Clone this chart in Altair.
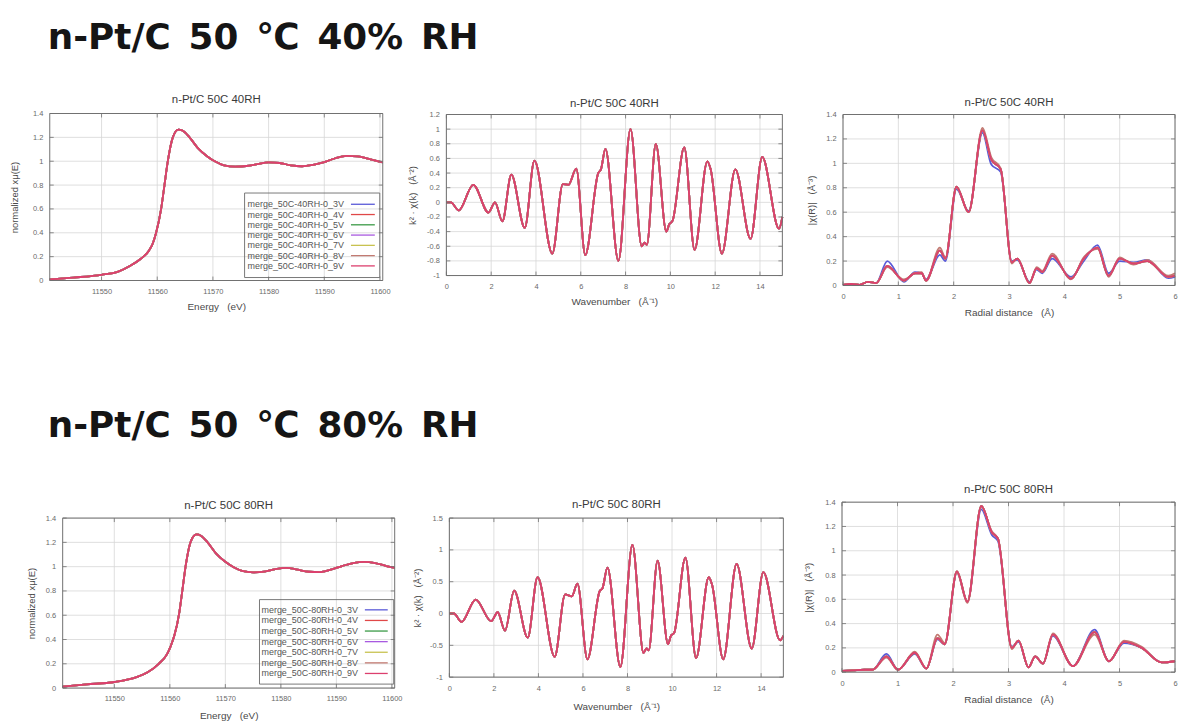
import altair as alt
import pandas as pd

FONT = "Liberation Sans"
HEAD_FONT = "DejaVu Sans"
GRID = "#d6d6d6"
FRAME = "#707070"
LABEL_C = "#6a6a6a"
TITLE_C = "#4a4a4a"
H = 690

# ---------------- series / legend ----------------
SERIES = ["0_3V", "0_4V", "0_5V", "0_6V", "0_7V", "0_8V", "0_9V"]
COLORS = ["#5a5ad8", "#e04848", "#3a9a46", "#a85ae0", "#c8c250", "#c27a72", "#dc3f6e"]
LEGEND_40 = ["merge_50C-40RH-0_3V", "merge_50C-40RH-0_4V", "merge_50C-40RH-0_5V", "merge_50C-40RH-0_6V",
             "merge_50C-40RH-0_7V", "merge_50C-40RH-0_8V", "merge_50C-40RH-0_9V"]
LEGEND_80 = ["merge_50C-80RH-0_3V", "merge_50C-80RH-0_4V", "merge_50C-80RH-0_5V", "merge_50C-80RH-0_6V",
             "merge_50C-80RH-0_7V", "merge_50C-80RH-0_8V", "merge_50C-80RH-0_9V"]

SP = "\u2002"
HEADINGS = ["n-Pt/C" + SP + "50" + SP + "\u2103" + SP + "40%" + SP + "RH",
            "n-Pt/C" + SP + "50" + SP + "\u2103" + SP + "80%" + SP + "RH"]
PANEL_TITLES = ["n-Pt/C 50C 40RH", "n-Pt/C 50C 40RH", "n-Pt/C 50C 40RH",
                "n-Pt/C 50C 80RH", "n-Pt/C 50C 80RH", "n-Pt/C 50C 80RH"]
NB = "\u00a0\u00a0\u00a0"
X_TITLES = ["Energy" + NB + "(eV)", "Wavenumber" + NB + "(\u00c5\u207b\u00b9)", "Radial distance" + NB + "(\u00c5)"]
Y_TITLES = ["normalized x\u03bc(E)", "k\u00b2 \u00b7 \u03c7(k)" + NB + "(\u00c5\u207b\u00b2)",
            "|\u03c7(R)|" + NB + "(\u00c5\u207b\u00b3)"]

# ---------------- tick values ----------------
XT_E = [11550, 11560, 11570, 11580, 11590, 11600]
YT_MU = [0, 0.2, 0.4, 0.6, 0.8, 1, 1.2, 1.4]
XT_K = [0, 2, 4, 6, 8, 10, 12, 14]
YT_K40 = [-1, -0.8, -0.6, -0.4, -0.2, 0, 0.2, 0.4, 0.6, 0.8, 1, 1.2]
YT_K80 = [-1, -0.5, 0, 0.5, 1, 1.5]
XT_R = [0, 1, 2, 3, 4, 5, 6]
YT_R = [0, 0.2, 0.4, 0.6, 0.8, 1, 1.2, 1.4]

# ---------------- XANES ----------------
E40 = [11540.7, 11545, 11550, 11553, 11555, 11557, 11558.5, 11559.2, 11559.8, 11560.7, 11561.3, 11561.9,
       11562.8, 11563.8, 11564.6, 11565.8, 11567.3, 11569, 11570.5, 11572, 11574, 11576, 11578, 11580,
       11582, 11584, 11586, 11588, 11590, 11592, 11594, 11596, 11598, 11600.5]
MU40 = [0.01, 0.025, 0.048, 0.075, 0.12, 0.18, 0.25, 0.31, 0.40, 0.60, 0.80, 1.00,
        1.20, 1.265, 1.255, 1.2, 1.11, 1.04, 0.995, 0.965, 0.955, 0.96, 0.975, 0.99,
        0.985, 0.965, 0.958, 0.97, 0.993, 1.025, 1.045, 1.04, 1.02, 0.99]

E80 = [11540.7, 11545, 11550, 11554, 11556, 11558, 11559.5, 11560.2, 11560.8, 11561.7, 11562.3, 11562.9,
       11563.8, 11564.8, 11565.6, 11566.8, 11568.3, 11570, 11571.5, 11573, 11575, 11577, 11579, 11581,
       11583, 11585, 11587, 11589, 11591, 11593, 11595, 11597, 11599, 11600.5]
MU80 = [0.012, 0.03, 0.05, 0.09, 0.13, 0.2, 0.28, 0.35, 0.43, 0.62, 0.82, 1.02,
        1.21, 1.265, 1.255, 1.2, 1.11, 1.04, 0.995, 0.965, 0.953, 0.96, 0.98, 0.99,
        0.975, 0.958, 0.955, 0.975, 1.005, 1.03, 1.04, 1.03, 1.005, 0.99]

# ---------------- k-space ----------------
K40 = [0, 0.2, 0.55, 1.2, 1.88, 2.17, 2.5, 2.9, 3.5, 3.93, 4.73, 5.2, 5.45, 5.8, 6.2, 6.78, 6.9, 7.1,
       7.68, 8.22, 8.72, 8.85, 8.95, 9.35, 9.82, 9.95, 10.1, 10.62, 11.08, 11.65, 11.8, 12.3, 12.9,
       13.58, 14.1, 14.85, 15.0]
C40 = [0, 0, -0.11, 0.24, -0.14, 0.0, -0.26, 0.38, -0.35, 0.57, -0.7, 0.25, 0.24, 0.46, -0.72, 0.4, 0.45, 0.73,
       -0.8, 1.0, -0.6, -0.55, -0.58, 0.8, -0.4, -0.3, -0.25, 0.75, -0.65, 0.56, 0.45, -0.7, 0.45,
       -0.5, 0.62, -0.36, -0.2]

K80 = [0, 0.2, 0.55, 1.18, 1.88, 2.17, 2.5, 2.91, 3.52, 3.96, 4.73, 5.2, 5.5, 5.75, 6.2, 6.75, 6.88, 7.1,
       7.68, 8.22, 8.72, 8.85, 8.95, 9.35, 9.82, 9.95, 10.1, 10.6, 11.08, 11.65, 11.8, 12.3, 12.9,
       13.58, 14.1, 14.85, 15.0]
C80 = [0, 0, -0.13, 0.22, -0.12, 0.02, -0.27, 0.36, -0.38, 0.57, -0.68, 0.3, 0.27, 0.47, -0.72, 0.35, 0.4, 0.72,
       -0.84, 1.08, -0.62, -0.55, -0.58, 0.83, -0.48, -0.35, -0.3, 0.88, -0.7, 0.57, 0.45, -0.72, 0.78,
       -0.55, 0.65, -0.42, -0.35]

# ---------------- FT magnitude ----------------
R40 = [0, 0.15, 0.3, 0.45, 0.6, 0.8, 1.1, 1.3, 1.42, 1.5, 1.75, 1.85, 2.05, 2.27, 2.52, 2.68, 2.85, 3.05,
       3.15, 3.37, 3.5, 3.6, 3.78, 4.12, 4.35, 4.6, 4.8, 5.0, 5.25, 5.5, 5.88, 6.0]
A40 = [0.005, 0.012, 0.005, 0.03, 0.02, 0.16, 0.04, 0.1, 0.1, 0.04, 0.285, 0.22, 0.81, 0.6, 1.27, 1.03, 0.95, 0.19,
       0.22, 0.02, 0.14, 0.11, 0.245, 0.055, 0.22, 0.31, 0.08, 0.22, 0.18, 0.2, 0.07, 0.08]
A40_3V = [0.005, 0.012, 0.005, 0.03, 0.02, 0.2, 0.03, 0.11, 0.1, 0.05, 0.25, 0.2, 0.79, 0.61, 1.25, 0.99, 0.93, 0.2,
          0.21, 0.03, 0.13, 0.1, 0.22, 0.07, 0.2, 0.33, 0.1, 0.2, 0.19, 0.21, 0.06, 0.07]
A40_8V = [0.005, 0.012, 0.005, 0.03, 0.02, 0.15, 0.05, 0.1, 0.11, 0.04, 0.31, 0.23, 0.8, 0.6, 1.29, 1.05, 0.96, 0.18,
          0.22, 0.02, 0.15, 0.12, 0.26, 0.05, 0.23, 0.3, 0.07, 0.23, 0.17, 0.21, 0.08, 0.1]

R80 = [0, 0.2, 0.4, 0.55, 0.8, 1.01, 1.31, 1.52, 1.72, 1.85, 2.07, 2.26, 2.51, 2.7, 2.81, 3.06, 3.18, 3.36,
       3.48, 3.62, 3.8, 4.16, 4.55, 4.81, 5.08, 5.4, 5.76, 6.0]
A80 = [0.01, 0.015, 0.02, 0.02, 0.13, 0.02, 0.16, 0.03, 0.28, 0.23, 0.83, 0.58, 1.37, 1.15, 1.1, 0.2, 0.26, 0.04,
       0.13, 0.07, 0.31, 0.05, 0.33, 0.09, 0.25, 0.2, 0.08, 0.09]
A80_3V = [0.01, 0.015, 0.02, 0.02, 0.15, 0.02, 0.15, 0.03, 0.27, 0.23, 0.82, 0.58, 1.34, 1.13, 1.08, 0.21, 0.25, 0.04,
          0.13, 0.07, 0.3, 0.05, 0.35, 0.09, 0.24, 0.2, 0.08, 0.09]
A80_8V = [0.01, 0.015, 0.02, 0.02, 0.12, 0.02, 0.17, 0.03, 0.31, 0.24, 0.82, 0.57, 1.36, 1.16, 1.1, 0.19, 0.26, 0.04,
          0.13, 0.07, 0.32, 0.05, 0.31, 0.09, 0.26, 0.21, 0.08, 0.09]

COLOR_SCALE = alt.Scale(domain=SERIES, range=COLORS)
TICK_LEN = 4


def series_frame(xs, base, overrides):
    rows = []
    for s in SERIES:
        ys = overrides.get(s, base)
        for x, y in zip(xs, ys):
            rows.append({"x": x, "y": y, "s": s})
    return pd.DataFrame(rows)


NEG_FMT = "datum.value < 0 ? '-' + format(-datum.value, '~g') : format(datum.value, '~g')"


def panel(box, xdom, ydom, xt, yt, df, title, title_y, xtitle, ytitle, xt_dy, yt_dx):
    l, r, t, b = box
    xs = alt.Scale(domain=xdom, range=[l, r], nice=False, zero=False)
    ys = alt.Scale(domain=ydom, range=[b, t], nice=False, zero=False)
    xdf = pd.DataFrame({"v": xt})
    ydf = pd.DataFrame({"v": yt})
    out = []
    out.append(alt.Chart(xdf).mark_rule(color=GRID, strokeWidth=0.8).encode(
        x=alt.X("v:Q", scale=xs, axis=None), y=alt.value(t), y2=alt.value(b)))
    out.append(alt.Chart(ydf).mark_rule(color=GRID, strokeWidth=0.8).encode(
        y=alt.Y("v:Q", scale=ys, axis=None), x=alt.value(l), x2=alt.value(r)))
    xaxis = alt.Axis(orient="bottom", offset=b - H, values=xt, format="d", grid=False, ticks=False,
                     tickSize=0, domain=False, labelPadding=7, labelFontSize=7.5, labelColor=LABEL_C,
                     labelFont=FONT, labelFlush=False, labelOverlap=False,
                     title=xtitle, titleX=(l + r) / 2, titleY=xt_dy, titleAlign="center",
                     titleBaseline="middle", titleFont=FONT, titleFontSize=10, titleFontWeight="normal",
                     titleColor=TITLE_C)
    yaxis = alt.Axis(orient="left", offset=-l, values=yt, grid=False, ticks=False, tickSize=0,
                     domain=False, labelPadding=7, labelFontSize=7.5, labelColor=LABEL_C, labelFont=FONT,
                     labelFlush=False, labelOverlap=False, labelExpr=NEG_FMT,
                     title=ytitle, titleX=yt_dx, titleY=(t + b) / 2, titleAngle=270, titleAlign="center",
                     titleBaseline="middle", titleFont=FONT, titleFontSize=9.5, titleFontWeight="normal",
                     titleColor=TITLE_C)
    out.append(alt.Chart(df).mark_line(strokeWidth=1.8, interpolate="monotone").encode(
        x=alt.X("x:Q", scale=xs, axis=xaxis),
        y=alt.Y("y:Q", scale=ys, axis=yaxis),
        color=alt.Color("s:N", scale=COLOR_SCALE, legend=None)))
    # inward ticks on all four sides (gnuplot style)
    for y0, y1 in ((b, b - TICK_LEN), (t, t + TICK_LEN)):
        out.append(alt.Chart(xdf).mark_rule(color=FRAME, strokeWidth=0.8).encode(
            x=alt.X("v:Q", scale=xs, axis=None), y=alt.value(y0), y2=alt.value(y1)))
    for x0, x1 in ((l, l + TICK_LEN), (r, r - TICK_LEN)):
        out.append(alt.Chart(ydf).mark_rule(color=FRAME, strokeWidth=0.8).encode(
            y=alt.Y("v:Q", scale=ys, axis=None), x=alt.value(x0), x2=alt.value(x1)))
    out.append(alt.Chart(pd.DataFrame({"a": [0]})).mark_rect(filled=False, stroke=FRAME, strokeWidth=1).encode(
        x=alt.value(l), x2=alt.value(r), y=alt.value(t), y2=alt.value(b)))
    out.append(alt.Chart(pd.DataFrame({"t": [title]})).mark_text(
        align="center", baseline="middle", font=FONT, fontSize=11.5, color="#3a3a3a").encode(
        x=alt.value((l + r) / 2), y=alt.value(title_y), text="t:N"))
    return out


def legend(names, box, text_x, line_x, row_y):
    bl, br, bt, bb = box
    df = pd.DataFrame({"name": names, "s": SERIES, "i": list(range(len(names)))})
    ysc = alt.Scale(type="point", domain=list(range(len(names))), range=list(row_y), padding=0)
    out = [
        alt.Chart(pd.DataFrame({"a": [0]})).mark_rect(filled=False, stroke="#6a6a6a", strokeWidth=0.9).encode(
            x=alt.value(bl), x2=alt.value(br), y=alt.value(bt), y2=alt.value(bb)),
        alt.Chart(df).mark_text(align="left", baseline="middle", font=FONT, fontSize=9, color="#555555").encode(
            x=alt.value(text_x), y=alt.Y("i:O", scale=ysc, axis=None), text="name:N"),
        alt.Chart(df).mark_rule(strokeWidth=1.3).encode(
            x=alt.value(line_x[0]), x2=alt.value(line_x[1]), y=alt.Y("i:O", scale=ysc, axis=None),
            color=alt.Color("s:N", scale=COLOR_SCALE, legend=None)),
    ]
    return out


def heading(text, y):
    return alt.Chart(pd.DataFrame({"t": [text]})).mark_text(
        align="left", baseline="alphabetic", font=HEAD_FONT, fontSize=36, fontWeight="bold",
        color="#151515").encode(x=alt.value(40), y=alt.value(y), text="t:N")


layers = []
layers.append(heading(HEADINGS[0], 39))
layers.append(heading(HEADINGS[1], 429))

layers += panel((42, 377, 104, 272), [11540.7, 11600.5], [0, 1.4], XT_E, YT_MU,
                series_frame(E40, MU40, {}), PANEL_TITLES[0], 90, X_TITLES[0], Y_TITLES[0], 26, -35)
layers += panel((441, 779, 105, 267), [0, 15], [-1, 1.2], XT_K, YT_K40,
                series_frame(K40, C40, {}), PANEL_TITLES[1], 94, X_TITLES[1], Y_TITLES[1], 26, -34)
layers += panel((840, 1174, 105, 277), [0, 6], [0, 1.4], XT_R, YT_R,
                series_frame(R40, A40, {"0_3V": A40_3V, "0_8V": A40_8V}), PANEL_TITLES[2], 93,
                X_TITLES[2], Y_TITLES[2], 27, -32)
layers += panel((55, 389, 511, 682), [11540.7, 11600.5], [0, 1.4], XT_E, YT_MU,
                series_frame(E80, MU80, {}), PANEL_TITLES[3], 499, X_TITLES[0], Y_TITLES[0], 28, -31)
layers += panel((444, 780, 511, 671), [0, 15], [-1, 1.5], XT_K, YT_K80,
                series_frame(K80, C80, {}), PANEL_TITLES[4], 498, X_TITLES[1], Y_TITLES[1], 30, -32)
layers += panel((839, 1174, 495, 666), [0, 6], [0, 1.4], XT_R, YT_R,
                series_frame(R80, A80, {"0_3V": A80_3V, "0_8V": A80_8V}), PANEL_TITLES[5], 483,
                X_TITLES[2], Y_TITLES[2], 28, -34)

layers += legend(LEGEND_40, (238, 374, 184, 269), 241, (345, 369), (195.3, 257.3))
layers += legend(LEGEND_80, (253, 388, 593, 678), 255, (359, 382), (603.3, 667.3))

chart = alt.layer(*layers).resolve_scale(x="independent", y="independent").properties(
    width=1174, height=H, padding=0
).configure_view(stroke="transparent")

chart.save("out.html", embed_options={"renderer": "svg", "actions": False})
